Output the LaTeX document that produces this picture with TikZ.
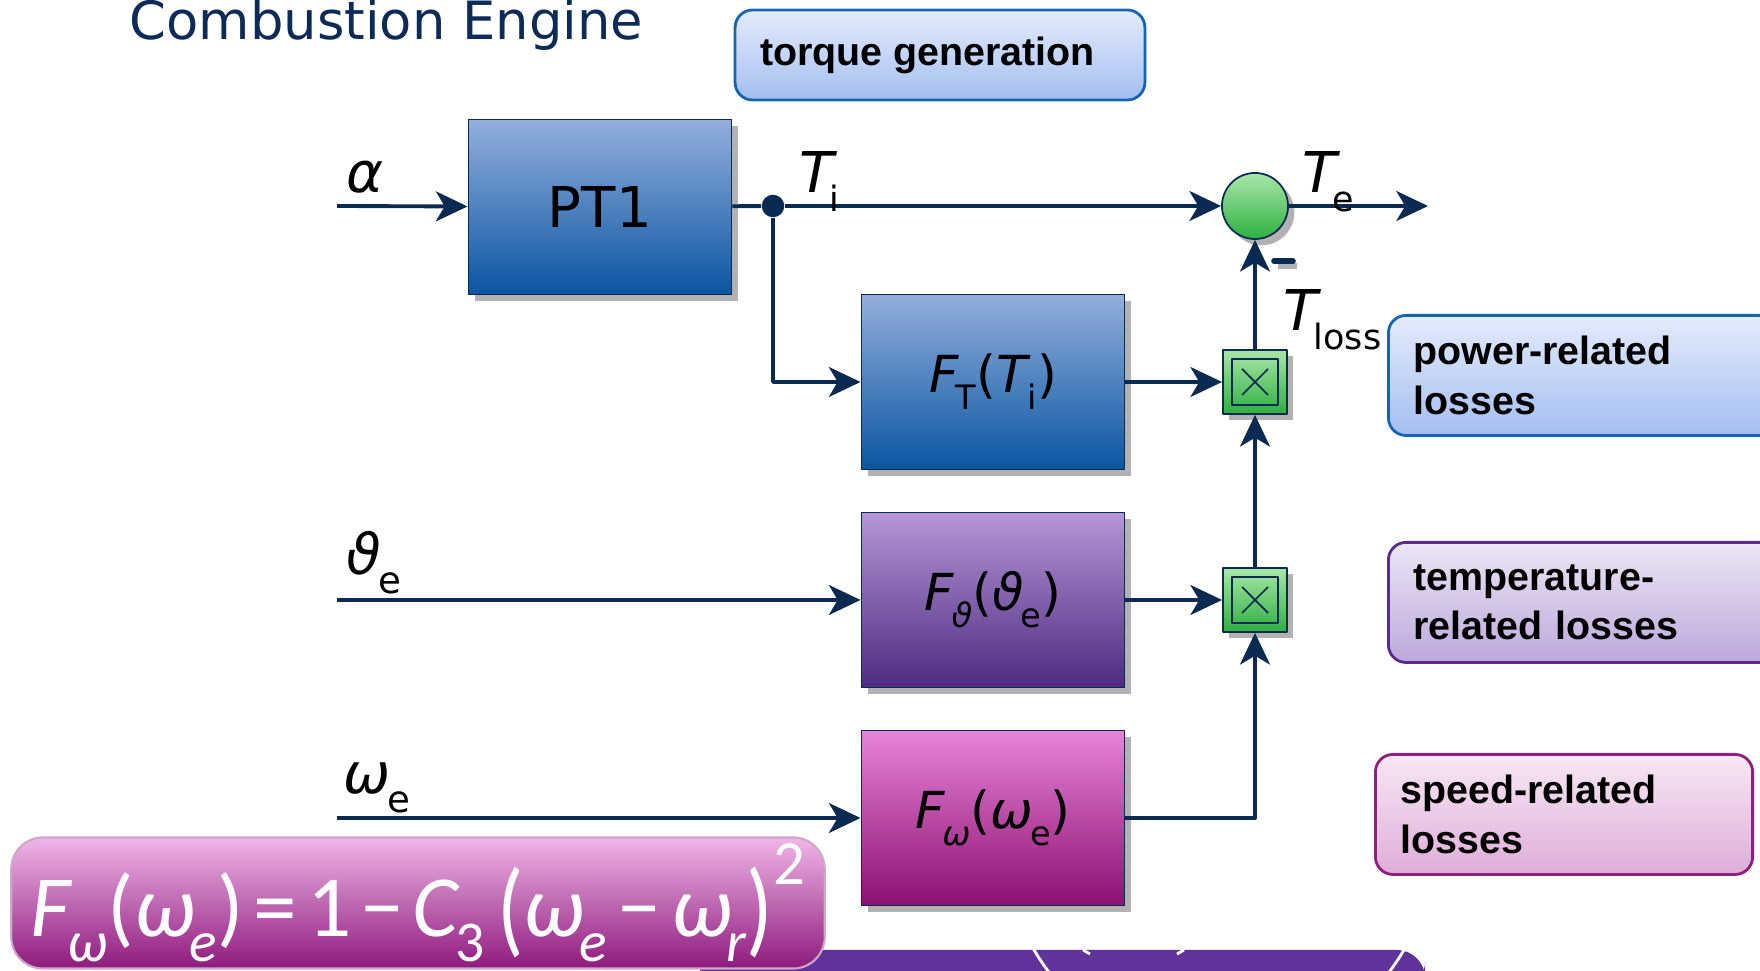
\documentclass[tikz,border=0pt]{standalone}
\usepackage{fontspec}
\setmainfont{DejaVu Sans}
\newfontfamily\labfont{Liberation Sans}
\newfontfamily\eqfont{Carlito}
\usetikzlibrary{arrows.meta,shadows}
\definecolor{navy}{HTML}{0B2A52}
\definecolor{titlecol}{HTML}{0D2B57}
\definecolor{bluetop}{HTML}{93AEDC}
\definecolor{bluebot}{HTML}{0A56A2}
\definecolor{violtop}{HTML}{B497D6}
\definecolor{violbot}{HTML}{4E2A80}
\definecolor{pinktop}{HTML}{E684D8}
\definecolor{pinkbot}{HTML}{8C1070}
\definecolor{greentop}{HTML}{A8E6A8}
\definecolor{greenbot}{HTML}{2DB040}
\definecolor{nbluetop}{HTML}{E4ECFC}
\definecolor{nbluebot}{HTML}{A4BEF0}
\definecolor{nbluedraw}{HTML}{1565B5}
\definecolor{nvioltop}{HTML}{ECE6F4}
\definecolor{nviolbot}{HTML}{BCA8DC}
\definecolor{nvioldraw}{HTML}{5A2D8A}
\definecolor{npinktop}{HTML}{F6E8F4}
\definecolor{npinkbot}{HTML}{DFADD8}
\definecolor{npinkdraw}{HTML}{8C1F82}
\definecolor{eqtop}{HTML}{F0B6E8}
\definecolor{eqmid}{HTML}{CC84C4}
\definecolor{eqbot}{HTML}{8E1A7C}
\definecolor{bandcol}{HTML}{5F3399}
\newcommand{\lo}[1]{\kern-0.06em\raisebox{-0.6ex}{\scalebox{0.66}{#1}}}
\newcommand{\tlo}[1]{\kern-0.14em\raisebox{-0.6ex}{\scalebox{0.62}{#1}}}
\newcommand{\hi}[1]{\raisebox{1.25ex}{\scalebox{0.72}{#1}}}
\newcommand{\tallp}[1]{\raisebox{-0.08em}{\scalebox{1}[1.2]{#1}}}
\begin{document}
\begin{tikzpicture}[x=0.01cm, y=-0.01cm, line join=round,
    >={Stealth[length=9pt,width=8.5pt,inset=2.5pt]},
    sig/.style={draw=navy, line width=1.1pt},
    shd/.style={drop shadow={opacity=1, fill=gray!60, shadow xshift=1.8pt, shadow yshift=-1.8pt}},
    blk/.style={shd, draw=navy, line width=0.5pt, minimum width=2.63cm, minimum height=1.75cm, inner sep=0pt},
    blueblk/.style={blk, top color=bluetop, bottom color=bluebot},
    violblk/.style={blk, top color=violtop, bottom color=violbot},
    pinkblk/.style={blk, top color=pinktop, bottom color=pinkbot},
    sum/.style={shd, circle, draw=navy, line width=0.5pt, minimum size=0.66cm, inner sep=0pt, top color=greentop, bottom color=greenbot},
    mult/.style={shd, rectangle, draw=navy, line width=0.5pt, minimum size=0.64cm, inner sep=0pt, top color=greentop, bottom color=greenbot},
    jn/.style={circle, fill=navy, minimum size=6.4pt, inner sep=0pt},
    siglab/.style={anchor=base west, inner sep=0pt, font=\fontsize{16}{18}\selectfont},
    blklab/.style={font=\fontsize{14.5}{17}\selectfont},
    note/.style={rounded corners=5pt, line width=0.8pt, anchor=north west, align=left, inner xsep=0.25cm, inner ysep=0pt, minimum height=1.2cm, font=\labfont\bfseries\fontsize{11.2}{14}\selectfont},
    bluenote/.style={note, top color=nbluetop, bottom color=nbluebot, draw=nbluedraw},
    violnote/.style={note, top color=nvioltop, bottom color=nviolbot, draw=nvioldraw},
    pinknote/.style={note, top color=npinktop, bottom color=npinkbot, draw=npinkdraw}]
  \useasboundingbox (0,0) rectangle (1760,971);
  \clip (0,0) rectangle (1760,971);
  \fill[bandcol, rounded corners=8pt] (700,950) rectangle (1425,990);
  \begin{scope}
    \clip (700,950) rectangle (1425,990);
    \draw[white, line width=0.8pt] (1219,842) circle (2.14cm);
    \draw[white, line width=0.8pt] (1083,950) -- (1090,954) (1184,950) -- (1177,954);
  \end{scope}

  \node[anchor=base west, inner sep=0pt, text=titlecol, font=\fontsize{15}{18}\selectfont] (title) at (129,40) {Combustion Engine};
  \node[bluenote, anchor=center, align=center, minimum width=4.09cm, minimum height=0.9cm] (trq) at (940,55) {torque generation\hspace{0.25cm}};

  \node[blueblk, font=\fontsize{16}{19}\selectfont] (pt1) at (600,207) {PT1};
  \node[blueblk, blklab] (ft) at (993,382) {\textit{F}\lo{T}(\textit{T}\lo{i})};
  \node[violblk, blklab] (fth) at (993,600) {\textit{F}\lo{\textit{ϑ}}(\textit{ϑ}\lo{e})};
  \node[pinkblk, blklab] (fw) at (993,818) {\textit{F}\lo{\textit{ω}}(\textit{ω}\lo{e})};
  \node[sum] (sum) at (1255,206) {};
  \node[mult] (m1) at (1255,382) {};
  \node[mult] (m2) at (1255,600) {};
  \foreach \m in {m1,m2} {
    \draw[navy, line width=0.5pt] ([shift={(-23,-23)}]\m.center) rectangle ([shift={(23,23)}]\m.center);
    \draw[navy, line width=0.5pt] ([shift={(-13,-13)}]\m.center) -- ([shift={(13,13)}]\m.center)
      ([shift={(-13,13)}]\m.center) -- ([shift={(13,-13)}]\m.center);
  }
  \node[jn] (jn) at (773,206) {};
  \coordinate (a0) at (337,206);
  \coordinate (th0) at (337,600);
  \coordinate (w0) at (337,818);
  \coordinate (out) at (1428,206);

  \draw[sig,->] (a0) -- (pt1);
  \draw[sig] (pt1) -- (jn);
  \draw[sig,->] (jn) -- (sum);
  \draw[sig,->] (jn) |- (ft);
  \draw[sig,->] (sum) -- (out);
  \draw[sig,->] (ft) -- (m1);
  \draw[sig,->] (th0) -- (fth);
  \draw[sig,->] (fth) -- (m2);
  \draw[sig,->] (w0) -- (fw);
  \draw[sig,->] (fw) -| (m2);
  \draw[sig,->] (m2) -- (m1);
  \draw[sig,->] (m1) -- (sum);
  \draw[gray!60, line width=1.6pt] (1278,266) -- (1297,266);
  \draw[navy, line width=1.6pt, line cap=round] (1274,261) -- (1293,261);

  \node[siglab] (la) at (346,193) {\textit{α}};
  \node[siglab] (lti) at (799,193) {\textit{T}\tlo{i}};
  \node[siglab] (lte) at (1302,193) {\textit{T}\tlo{e}};
  \node[siglab] (ltl) at (1283,331) {\textit{T}\tlo{loss}};
  \node[siglab] (lth) at (346,575) {\textit{ϑ}\lo{e}};
  \node[siglab] (lw) at (343,794) {\textit{ω}\lo{e}};

  \node[bluenote, text width=3.38cm] (pwr) at (1387,314) {power-related\\losses};
  \node[violnote, text width=3.38cm] (tmp) at (1387,541) {temperature-\\related losses};
  \node[pinknote, text width=3.27cm] (spd) at (1374,753) {speed-related\\losses};

  \node[rounded corners=9pt, draw=eqtop!70!gray, line width=0.6pt, top color=eqtop, middle color=eqmid, bottom color=eqbot,
    minimum width=8.13cm, minimum height=1.31cm, inner sep=0pt, text=white, font=\eqfont\fontsize{24.8}{27}\selectfont] (eq) at (418,903)
    {\textit{F}\lo{\textit{ω}}(\textit{ω}\lo{\textit{e}})\hspace{0.12em}=\hspace{0.12em}1\hspace{0.1em}−\hspace{0.1em}\textit{C}\lo{3}\hspace{0.15em}\tallp{(}\textit{ω}\lo{\textit{e}}\hspace{0.12em}−\hspace{0.12em}\textit{ω}\lo{\textit{r}}\tallp{)}\hi{2}};
\end{tikzpicture}
\end{document}
